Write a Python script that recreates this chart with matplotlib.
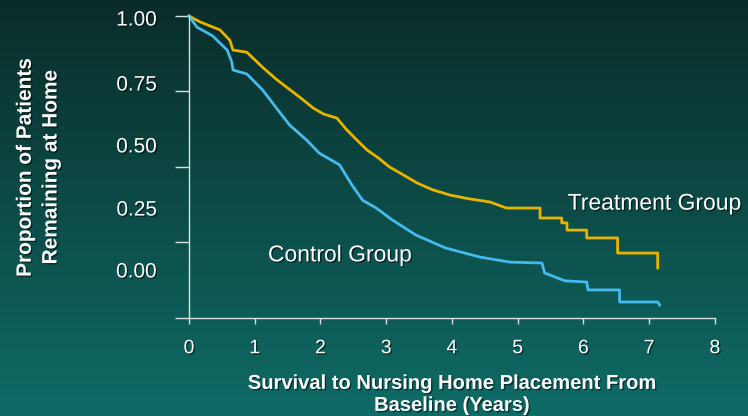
import matplotlib
matplotlib.use("Agg")
import matplotlib.pyplot as plt
import matplotlib.patheffects as pe
import numpy as np

plt.rcParams['font.family'] = ['Liberation Sans', 'DejaVu Sans']

# Kaplan-Meier style curves (corner points of the steps)
treat_t = [0, 0.17, 0.47, 0.62, 0.67, 0.88, 1.12, 1.33, 1.54, 1.72, 1.89, 2.05, 2.25, 2.40,
           2.55, 2.71, 2.88, 3.05, 3.25, 3.47, 3.70, 3.97, 4.25, 4.58, 4.83, 5.34, 5.34,
           5.67, 5.67, 5.75, 5.75, 6.05, 6.05, 6.52, 6.52, 7.13, 7.13]
treat_s = [1.0, 0.98, 0.954, 0.92, 0.887, 0.88, 0.83, 0.79, 0.755, 0.725, 0.695, 0.675,
           0.662, 0.623, 0.59, 0.556, 0.53, 0.50, 0.475, 0.447, 0.425, 0.407, 0.395, 0.384,
           0.364, 0.364, 0.331, 0.331, 0.315, 0.315, 0.291, 0.291, 0.265, 0.265, 0.215,
           0.215, 0.166]

ctrl_t = [0, 0.12, 0.36, 0.58, 0.65, 0.67, 0.88, 1.12, 1.33, 1.53, 1.79, 1.98, 2.29, 2.48,
          2.64, 2.85, 3.09, 3.45, 3.90, 4.42, 4.88, 5.37, 5.41, 5.72, 6.05, 6.07, 6.55,
          6.55, 7.13, 7.16]
ctrl_s = [1.0, 0.963, 0.934, 0.887, 0.848, 0.821, 0.808, 0.755, 0.695, 0.639, 0.589, 0.546,
          0.507, 0.44, 0.39, 0.364, 0.325, 0.275, 0.232, 0.202, 0.185, 0.182, 0.149, 0.123,
          0.119, 0.093, 0.093, 0.053, 0.053, 0.043]

y_ticks = [0, 0.25, 0.5, 0.75, 1.0]
y_tick_labels = ["0.00", "0.25", "0.50", "0.75", "1.00"]
x_ticks = list(range(9))

fig = plt.figure(figsize=(7.48, 4.16), dpi=100)

# gradient background
bg = fig.add_axes([0, 0, 1, 1])
grad = np.linspace(0, 1, 256).reshape(-1, 1)
top = np.array([0x0a, 0x2c, 0x29]) / 255
bot = np.array([0x0f, 0x6b, 0x66]) / 255
img = top + (bot - top) * grad[..., None]
bg.imshow(img, aspect="auto", extent=[0, 1, 0, 1], origin="upper")
bg.axis("off")

ax = fig.add_axes([0.2527, 0.2356, 0.703, 0.726])
ax.patch.set_alpha(0)
shadow = [pe.withSimplePatchShadow(offset=(1, -1), shadow_rgbFace="black", alpha=0.5)]

ax.plot(treat_t, treat_s, color="#e8b400", lw=2, clip_on=False)
ax.plot(ctrl_t, ctrl_s, color="#44bbee", lw=2, clip_on=False)

ax.set_xlim(0, 8)
ax.set_ylim(0, 1)
for s in ["top", "right"]:
    ax.spines[s].set_visible(False)
for s in ["left", "bottom"]:
    ax.spines[s].set_color("#d8e4e2")
    ax.spines[s].set_linewidth(1)

ax.set_xticks(x_ticks)
ax.tick_params(axis="x", colors="white", direction="out", length=4, width=1,
               labelsize=14, pad=12, color="#d8e4e2")
ax.set_xticklabels([str(v) for v in x_ticks])

# y ticks on the axis, labels drawn at the offset positions the slide uses
ax.set_yticks(y_ticks)
ax.set_yticklabels([])
ax.tick_params(axis="y", which="major", direction="out", length=10, width=1, color="#d8e4e2")
label_pos = [0.159, 0.364, 0.573, 0.778, 0.993]
ax.set_yticks(label_pos, minor=True)
ax.set_yticklabels(y_tick_labels, minor=True)
ax.tick_params(axis="y", which="minor", length=0, pad=23, labelsize=15, labelcolor="white")

for lab in ax.get_xticklabels() + ax.get_yticklabels(minor=True):
    lab.set_path_effects(shadow)

ax.set_ylabel("Proportion of Patients\nRemaining at Home", color="white",
              fontsize=15, fontweight="bold", labelpad=40, linespacing=1.45,
              path_effects=shadow)
ax.set_xlabel("Survival to Nursing Home Placement From\nBaseline (Years)", color="white",
              fontsize=14.5, fontweight="bold", labelpad=12, linespacing=1.2,
              path_effects=shadow)

ax.text(5.76, 0.38, "Treatment Group", color="white", fontsize=16.5, va="center",
        ha="left", path_effects=shadow, clip_on=False)
ax.text(1.2, 0.209, "Control Group", color="white", fontsize=16.5, va="center",
        ha="left", path_effects=shadow)

fig.savefig("out.png", dpi=100)
